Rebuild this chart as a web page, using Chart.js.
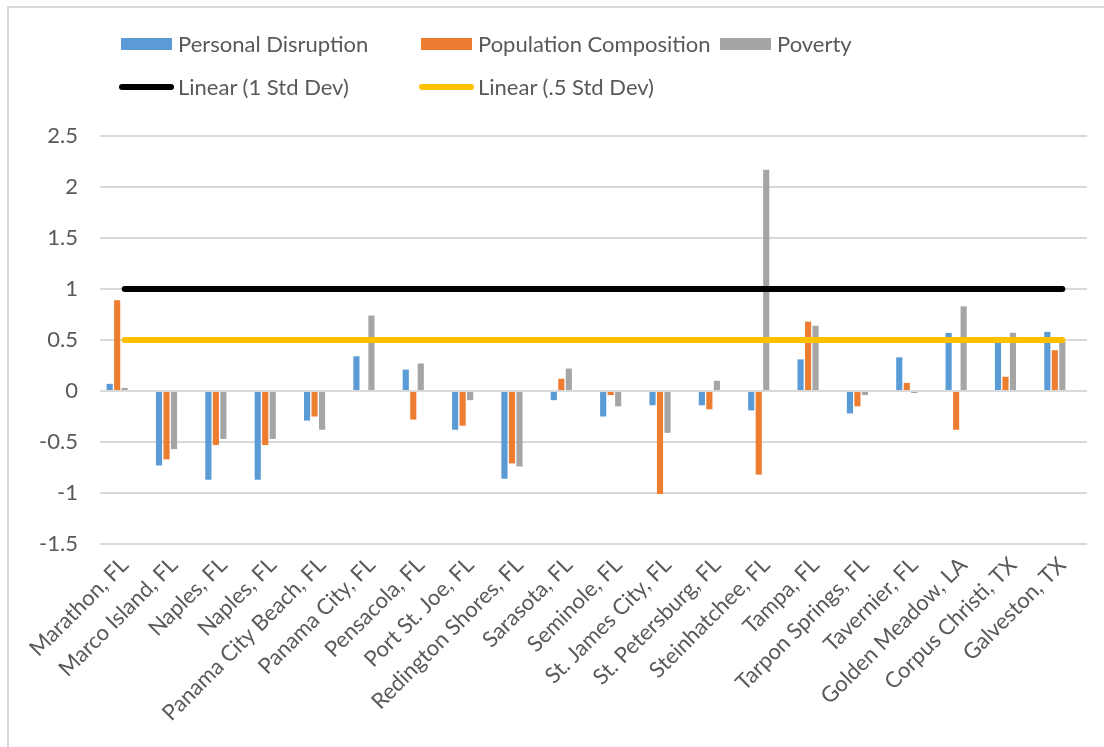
<!DOCTYPE html>
<html>
<head>
<meta charset="utf-8">
<script src="https://cdn.jsdelivr.net/npm/chart.js@4.4.1/dist/chart.umd.min.js"></script>
<style>
    html, body { margin: 0; padding: 0; background: #fff; }
    #wrap { position: relative; width: 1104px; height: 747px; overflow: hidden; }
    #frame { position: absolute; left: 7px; top: 6px; right: -4px; bottom: -4px;
             border-top: 2px solid #D9D9D9; border-left: 2px solid #D9D9D9; }
    #chart { position: absolute; left: 0; top: 0; }
    .label { position: absolute; white-space: nowrap; line-height: 26px; height: 26px;
             font-family: Lato, sans-serif; font-size: 22px; color: #595959; }
    .swatch { position: absolute; width: 51px; height: 12px; }
    .stroke { position: absolute; width: 55px; height: 6px; border-radius: 3px; }
</style>
</head>
<body>
<div id="wrap">
    <div id="frame"></div>
    <canvas id="chart" width="1104" height="747"></canvas>
    <div id="legend"></div>
</div>
<script>
// categories (x axis)
const places = [
    'Marathon, FL', 'Marco Island, FL', 'Naples, FL', 'Naples, FL', 'Panama City Beach, FL',
    'Panama City, FL', 'Pensacola, FL', 'Port St. Joe, FL', 'Redington Shores, FL', 'Sarasota, FL',
    'Seminole, FL', 'St. James City, FL', 'St. Petersburg, FL', 'Steinhatchee, FL', 'Tampa, FL',
    'Tarpon Springs, FL', 'Tavernier, FL', 'Golden Meadow, LA', 'Corpus Christi, TX', 'Galveston, TX'
];

// bar series
const personalDisruption = [
    0.07, -0.73, -0.87, -0.87, -0.29, 0.34, 0.21, -0.38, -0.86, -0.09,
    -0.25, -0.14, -0.14, -0.19, 0.31, -0.22, 0.33, 0.57, 0.53, 0.58
];
const populationComposition = [
    0.89, -0.67, -0.53, -0.53, -0.25, 0, -0.28, -0.34, -0.71, 0.12,
    -0.04, -1.01, -0.18, -0.82, 0.68, -0.15, 0.08, -0.38, 0.14, 0.40
];
const poverty = [
    0.03, -0.57, -0.47, -0.47, -0.38, 0.74, 0.27, -0.09, -0.74, 0.22,
    -0.15, -0.41, 0.10, 2.17, 0.64, -0.04, -0.02, 0.83, 0.57, 0.49
];

// std dev series (no fill in the original, only their linear trendlines show)
const oneStdDev = [1, 1, 1, 1, 1, 1, 1, 1, 1, 1, 1, 1, 1, 1, 1, 1, 1, 1, 1, 1];
const halfStdDev = [0.5, 0.5, 0.5, 0.5, 0.5, 0.5, 0.5, 0.5, 0.5, 0.5,
                    0.5, 0.5, 0.5, 0.5, 0.5, 0.5, 0.5, 0.5, 0.5, 0.5];

// y axis ticks
const yTicks = [-1.5, -1, -0.5, 0, 0.5, 1, 1.5, 2, 2.5];

const textColor = '#595959';
const gridColor = '#D9D9D9';
const font = { family: 'Lato, sans-serif', size: 22 };

const barSeries = [
    { label: 'Personal Disruption', data: personalDisruption, color: '#5B9BD5' },
    { label: 'Population Composition', data: populationComposition, color: '#ED7D31' },
    { label: 'Poverty', data: poverty, color: '#A5A5A5' }
];
const lineSeries = [
    { label: 'Linear (1 Std Dev)', data: oneStdDev, color: '#000000' },
    { label: 'Linear (.5 Std Dev)', data: halfStdDev, color: '#FFC000' }
];

const datasets = [];
lineSeries.forEach(function(s) {
    datasets.push({
        type: 'line',
        label: s.label,
        data: s.data,
        borderColor: s.color,
        backgroundColor: s.color,
        borderWidth: 6,
        borderCapStyle: 'round',
        pointRadius: 0,
        fill: false,
        order: 0
    });
});
barSeries.forEach(function(s) {
    datasets.push({
        type: 'bar',
        label: s.label,
        data: s.data,
        backgroundColor: s.color,
        categoryPercentage: 0.76,
        barPercentage: 0.82,
        order: 1
    });
});
// the two std dev columns still take their slots in each group, unfilled
lineSeries.forEach(function(s) {
    datasets.push({
        type: 'bar',
        label: s.label.replace('Linear (', '').replace(')', ''),
        data: s.data,
        backgroundColor: 'rgba(0,0,0,0)',
        categoryPercentage: 0.76,
        barPercentage: 0.82,
        order: 2
    });
});

new Chart(document.getElementById('chart'), {
    data: { labels: places, datasets: datasets },
    options: {
        responsive: false,
        animation: false,
        layout: { padding: { top: 136, right: 17, left: 0, bottom: 0 } },
        plugins: { legend: { display: false }, tooltip: { enabled: false } },
        scales: {
            x: {
                grid: { display: false },
                border: { display: false },
                ticks: {
                    color: textColor, font: font,
                    maxRotation: 45, minRotation: 45, autoSkip: false, padding: 0
                },
                afterFit: function(scale) { scale.height = 203; }
            },
            y: {
                min: yTicks[0],
                max: yTicks[yTicks.length - 1],
                grid: { color: gridColor, lineWidth: 2, drawTicks: false },
                border: { display: false },
                afterBuildTicks: function(scale) {
                    scale.ticks = yTicks.map(function(v) { return { value: v }; });
                },
                ticks: {
                    color: textColor, font: font, padding: 22,
                    callback: function(v) { return String(Math.round(v * 10) / 10); }
                },
                afterFit: function(scale) { scale.width = 100; }
            }
        }
    }
});

// legend laid out like the Excel one: two rows, fixed text columns
const legend = document.getElementById('legend');
const legendRows = [
    { y: 44, xs: [178, 478, 777], items: barSeries, kind: 'swatch' },
    { y: 87, xs: [178, 478], items: lineSeries, kind: 'stroke' }
];
legendRows.forEach(function(row) {
    row.items.forEach(function(s, i) {
        const mark = document.createElement('div');
        mark.className = row.kind;
        mark.style.background = s.color;
        if (row.kind === 'swatch') {
            mark.style.left = (row.xs[i] - 57) + 'px';
            mark.style.top = (row.y - 6) + 'px';
        } else {
            mark.style.left = (row.xs[i] - 59) + 'px';
            mark.style.top = (row.y - 3) + 'px';
        }
        legend.appendChild(mark);
        const text = document.createElement('div');
        text.className = 'label';
        text.style.left = row.xs[i] + 'px';
        text.style.top = (row.y - 13) + 'px';
        text.textContent = s.label;
        legend.appendChild(text);
    });
});
</script>
</body>
</html>
